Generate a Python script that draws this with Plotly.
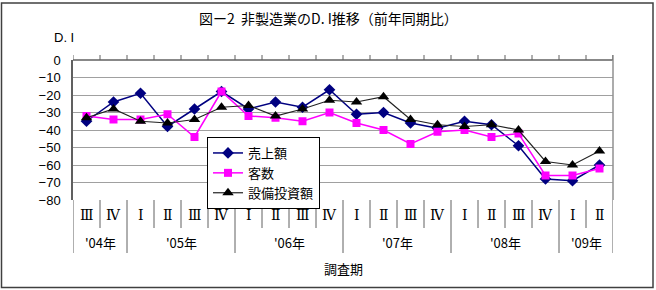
import plotly.graph_objects as go

quarters = ["Ⅲ", "Ⅳ", "Ⅰ", "Ⅱ", "Ⅲ", "Ⅳ", "Ⅰ", "Ⅱ", "Ⅲ", "Ⅳ",
            "Ⅰ", "Ⅱ", "Ⅲ", "Ⅳ", "Ⅰ", "Ⅱ", "Ⅲ", "Ⅳ", "Ⅰ", "Ⅱ"]
years = ["'04年", "'05年", "'06年", "'07年", "'08年", "'09年"]
year_counts = [2, 4, 4, 4, 4, 2]

sales = [-35, -24, -19, -38, -28, -18, -28, -24, -27, -17,
         -31, -30, -36, -39, -35, -37, -49, -68, -69, -60]
customers = [-32, -34, -34, -31, -44, -18, -32, -33, -35, -30,
             -36, -40, -48, -41, -40, -44, -42, -66, -66, -62]
capex = [-33, -28, -35, -36, -34, -27, -26, -32, -28, -23,
         -24, -21, -34, -37, -38, -37, -40, -58, -60, -52]

JP = "Noto Sans CJK JP"
L, R, T, B = 73, 613, 60, 200
W, H = 656, 290

def px(x):
    return (x - L) / (R - L)

def py(y):
    return (B - y) / (B - T)

xs = list(range(len(quarters)))

fig = go.Figure()
fig.add_trace(go.Scatter(x=xs, y=sales, name="売上額", mode="lines+markers",
                         line=dict(color="#000080", width=1.5),
                         marker=dict(symbol="diamond", size=9, color="#000080")))
fig.add_trace(go.Scatter(x=xs, y=customers, name="客数", mode="lines+markers",
                         line=dict(color="#FF00FF", width=1.5),
                         marker=dict(symbol="square", size=8, color="#FF00FF")))
fig.add_trace(go.Scatter(x=xs, y=capex, name="設備投資額", mode="lines+markers",
                         line=dict(color="#222222", width=1.2),
                         marker=dict(symbol="triangle-up", size=10, color="#000000")))

shapes = []
# outer frame
shapes.append(dict(type="rect", xref="paper", yref="paper",
                   x0=px(1.5), x1=px(653), y0=py(287.5), y1=py(3),
                   line=dict(color="#404040", width=1.5)))
# top axis line
shapes.append(dict(type="line", xref="paper", yref="paper",
                   x0=0, x1=1, y0=1, y1=1, line=dict(color="#606060", width=1.5)))
# right border
shapes.append(dict(type="line", xref="paper", yref="paper",
                   x0=1, x1=1, y0=0, y1=py(55), line=dict(color="#909090", width=1.5)))
# top ticks
for k in range(-1, len(quarters)):
    shapes.append(dict(type="line", xref="x", yref="paper",
                       x0=k + 0.5, x1=k + 0.5, y0=1, y1=py(55),
                       line=dict(color="#606060", width=1)))
# bottom separators
bounds = [-0.5]
for c in year_counts:
    bounds.append(bounds[-1] + c)
for k in range(-1, len(quarters)):
    xb = k + 0.5
    yb = 253 if xb in bounds else 228
    shapes.append(dict(type="line", xref="x", yref="paper",
                       x0=xb, x1=xb, y0=0, y1=py(yb),
                       line=dict(color="#606060", width=1)))

annotations = []
for i, q in enumerate(quarters):
    annotations.append(dict(x=i, y=py(215), xref="x", yref="paper", text=q,
                            showarrow=False, yanchor="middle",
                            font=dict(family="DejaVu Serif, " + JP, size=14, color="#000")))
for j, yl in enumerate(years):
    cx = (bounds[j] + bounds[j + 1]) / 2
    annotations.append(dict(x=cx, y=py(242), xref="x", yref="paper", text=yl,
                            showarrow=False, yanchor="middle",
                            font=dict(family=JP, size=13, color="#000")))
annotations.append(dict(x=px(343), y=py(268), xref="paper", yref="paper", text="調査期",
                        showarrow=False, yanchor="middle",
                        font=dict(family=JP, size=13, color="#000")))
annotations.append(dict(x=px(52), y=py(38), xref="paper", yref="paper", text="D. I",
                        showarrow=False, xanchor="left", yanchor="middle",
                        font=dict(family="Liberation Sans", size=13, color="#000")))
annotations.append(dict(x=px(328), y=py(18), xref="paper", yref="paper",
                        text="図ー2  非製造業のD. I推移（前年同期比）",
                        showarrow=False, yanchor="middle",
                        font=dict(family=JP, size=14, color="#000")))

fig.update_layout(
    width=W, height=H,
    margin=dict(l=L, r=W - R, t=T, b=H - B),
    paper_bgcolor="white", plot_bgcolor="white",
    showlegend=True,
    legend=dict(x=px(207), y=py(137), xanchor="left", yanchor="top",
                bgcolor="white", bordercolor="#000", borderwidth=1,
                font=dict(family=JP, size=13, color="#000"),
                tracegroupgap=0, itemwidth=30),
    xaxis=dict(range=[-0.5, len(quarters) - 0.5], showticklabels=False,
               showgrid=False, zeroline=False, showline=False, fixedrange=True),
    yaxis=dict(range=[-80, 0], dtick=10, tick0=0, showgrid=True,
               gridcolor="#a0a0a0", gridwidth=1, zeroline=False,
               showline=True, linecolor="#606060", linewidth=1.5,
               ticks="", ticklabelstandoff=8,
               tickfont=dict(family="Liberation Sans", size=13, color="#000")),
    shapes=shapes, annotations=annotations,
)

fig.write_html("out.html")
